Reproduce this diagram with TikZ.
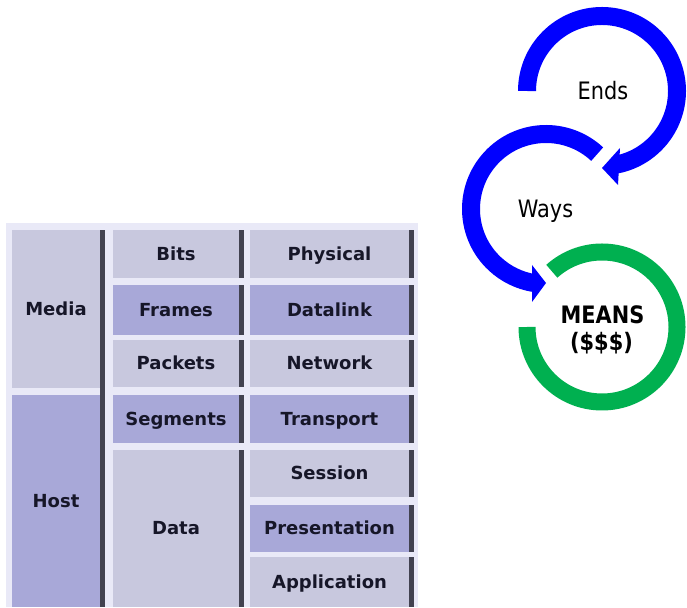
\documentclass[tikz,border=0pt]{standalone}
\usepackage{fontspec}
\setmainfont{DejaVu Sans}
\newfontfamily\narrowfont[FakeStretch=0.87]{DejaVu Sans}
\usetikzlibrary{calc}

\definecolor{cellLight}{RGB}{200,200,222}
\definecolor{cellDark}{RGB}{168,168,216}
\definecolor{tableGap}{RGB}{233,233,247}
\definecolor{barGrey}{RGB}{66,66,80}
\definecolor{labelInk}{RGB}{22,22,40}
\definecolor{ringBlue}{RGB}{0,0,255}
\definecolor{ringGreen}{RGB}{0,176,80}

\tikzset{
  cell/.style={inner sep=0pt, outer sep=0pt, text=labelInk,
    text height=13pt, text depth=0pt,
    font=\bfseries\fontsize{18}{20}\selectfont},
  lightcell/.style={cell, fill=cellLight},
  darkcell/.style={cell, fill=cellDark},
  colA/.style={minimum width=88pt},
  colB/.style={minimum width=126pt},
  colC/.style={minimum width=159pt},
  ringline/.style={line width=18pt},
  ringtext/.style={font=\narrowfont\fontsize{24}{28}\selectfont, text=black,
    inner sep=0pt, anchor=base},
}

\begin{document}
\begin{tikzpicture}[x=1pt, y=1pt]
\useasboundingbox (0,0) rectangle (687,607);

% ---- layer table ----
\fill[tableGap] (6,0) rectangle (418,384);

% first column
\node[lightcell, colA, minimum height=158pt] (media) at (56,298) {Media};
\node[darkcell,  colA, minimum height=212pt] (host)  at (56,106) {Host};

% second column: data units
\node[lightcell, colB, minimum height=48pt]  (bits)     at (176,353)   {Bits};
\node[darkcell,  colB, minimum height=50pt]  (frames)   at (176,297)   {Frames};
\node[lightcell, colB, minimum height=47pt]  (packets)  at (176,243.5) {Packets};
\node[darkcell,  colB, minimum height=48pt]  (segments) at (176,188)   {Segments};
\node[lightcell, colB, minimum height=157pt] (data)     at (176,78.5)  {Data};

% third column: layers
\node[lightcell, colC, minimum height=48pt] (physical)     at (329.5,353)   {Physical};
\node[darkcell,  colC, minimum height=50pt] (datalink)     at (329.5,297)   {Datalink};
\node[lightcell, colC, minimum height=47pt] (network)      at (329.5,243.5) {Network};
\node[darkcell,  colC, minimum height=48pt] (transport)    at (329.5,188)   {Transport};
\node[lightcell, colC, minimum height=47pt] (session)      at (329.5,133.5) {Session};
\node[darkcell,  colC, minimum height=47pt] (presentation) at (329.5,78.5)  {Presentation};
\node[lightcell, colC, minimum height=50pt] (application)  at (329.5,25)    {Application};

% dark dividers on the right of the cells
\fill[barGrey] (media.north east) rectangle ($(host.south east)+(5,0)$);
\foreach \c in {bits,frames,packets,segments,data,
                physical,datalink,network,transport,session,presentation,application}
  \fill[barGrey] (\c.north east) rectangle ($(\c.south east)+(5,0)$);

% ---- ends, ways, means ----
\coordinate (endsC)  at (602,516);
\coordinate (waysC)  at (546,398);
\coordinate (meansC) at (602,280);

% Ends: clockwise arc with head pointing into Ways
\draw[ringline, ringBlue] ($(endsC)+(180:75)$) arc[start angle=180, end angle=-80, radius=75];
\fill[ringBlue] ($(endsC)+(18,-57)$) -- ($(endsC)+(0,-77)$) -- ($(endsC)+(16,-94)$) -- cycle;

% Ways: counter-clockwise arc with head pointing into Means
\draw[ringline, ringBlue] ($(waysC)+(47:75)$) arc[start angle=47, end angle=261, radius=75];
\fill[ringBlue] ($(waysC)+(-14,-56)$) -- ($(waysC)+(0,-74)$) -- ($(waysC)+(-14,-93)$) -- cycle;

% Means: open green ring
\draw[line width=17pt, ringGreen] ($(meansC)+(180:75)$) arc[start angle=180, end angle=492, radius=75];

\node[ringtext] (ends)  at (603,507) {Ends};
\node[ringtext] (ways)  at (545.5,389) {Ways};
\node[ringtext, font=\narrowfont\bfseries\fontsize{24}{28}\selectfont] (means) at (602.5,283) {MEANS};
\node[ringtext, font=\narrowfont\bfseries\fontsize{24}{28}\selectfont] (money) at (601.5,256) {(\$\$\$)};
\end{tikzpicture}
\end{document}
